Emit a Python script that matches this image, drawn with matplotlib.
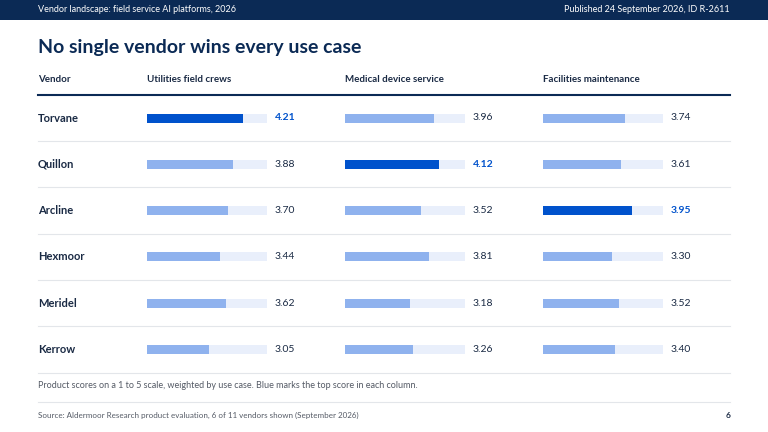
import matplotlib
matplotlib.use("Agg")
import matplotlib.pyplot as plt

plt.rcParams['font.family'] = ['Lato', 'DejaVu Sans']

vendors = ["Torvane", "Quillon", "Arcline", "Hexmoor", "Meridel", "Kerrow"]
columns = ["Utilities field crews", "Medical device service", "Facilities maintenance"]
utilities = [4.21, 3.88, 3.70, 3.44, 3.62, 3.05]
medical = [3.96, 4.12, 3.52, 3.81, 3.18, 3.26]
facilities = [3.74, 3.61, 3.95, 3.30, 3.52, 3.40]
scores = [utilities, medical, facilities]

NAVY = "#0b2a55"
TEXT = "#1a2a44"
TOP = "#0052cc"
BAR = "#8fb2ee"
TRACK = "#e9effb"
GREY = "#555b66"

fig = plt.figure(figsize=(7.68, 4.32), dpi=100)
ax = fig.add_axes([0, 0, 1, 1])
ax.set_xlim(0, 768)
ax.set_ylim(432, 0)
ax.axis("off")

# header band
ax.add_patch(plt.Rectangle((0, 0), 768, 20, color=NAVY, lw=0))
ax.text(38, 10, "Vendor landscape: field service AI platforms, 2026", color="white",
        fontsize=6.5, va="center")
ax.text(730, 10, "Published 24 September 2026, ID R-2611", color="white",
        fontsize=6.5, va="center", ha="right")

ax.text(38, 48, "No single vendor wins every use case", color=NAVY,
        fontsize=14, fontweight="bold", va="center")

col_x = [147, 345, 543]
track_w = 120
ax.text(38, 80, "Vendor", color=TEXT, fontsize=7, fontweight="bold", va="center")
for cx, name in zip(col_x, columns):
    ax.text(cx, 80, name, color=TEXT, fontsize=7, fontweight="bold", va="center")
ax.plot([38, 730], [95, 95], color=NAVY, lw=1.5)

row0, step = 118, 46.3
for i, v in enumerate(vendors):
    y = row0 + i * step
    ax.text(38, y, v, color=TEXT, fontsize=8, fontweight="bold", va="center")
    for cx, col in zip(col_x, scores):
        val = col[i]
        best = val == max(col)
        ax.barh(y, track_w, left=cx, height=9, color=TRACK, lw=0)
        ax.barh(y, (val - 1) / 4 * track_w, left=cx, height=9,
                color=TOP if best else BAR, lw=0)
        ax.text(cx + track_w + 8, y, f"{val:.2f}", va="center", fontsize=7.5,
                color=TOP if best else TEXT, fontweight="bold" if best else "normal")
    ax.plot([38, 730], [y + step / 2, y + step / 2], color="#e3e6ea", lw=0.8)

ax.text(38, 385, "Product scores on a 1 to 5 scale, weighted by use case. Blue marks the top score in each column.",
        color=GREY, fontsize=6.5, va="center")
ax.plot([38, 730], [402, 402], color="#e3e6ea", lw=0.8)
ax.text(38, 415, "Source: Aldermoor Research product evaluation, 6 of 11 vendors shown (September 2026)",
        color=GREY, fontsize=5.8, va="center")
ax.text(730, 415, "6", color=TEXT, fontsize=6, fontweight="bold", va="center", ha="right")

fig.savefig("out.png", dpi=100)
